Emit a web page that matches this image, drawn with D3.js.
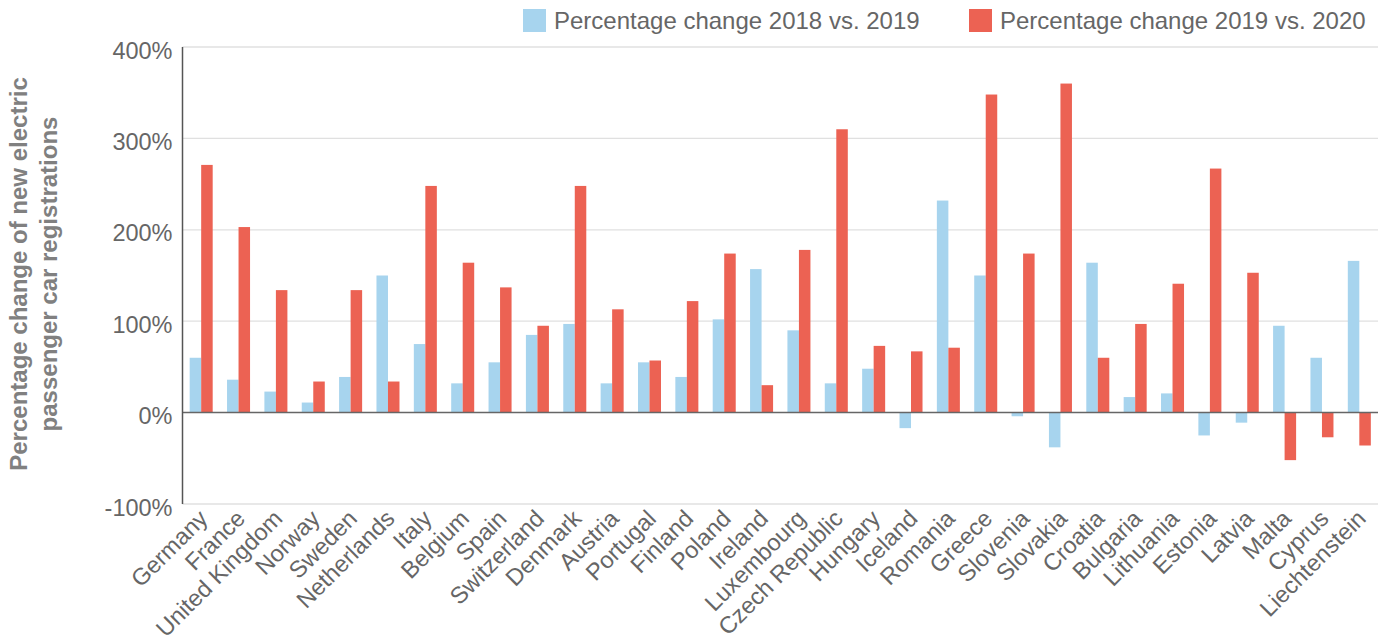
<!DOCTYPE html>
<html>
<head>
<meta charset="utf-8">
<script src="https://cdn.jsdelivr.net/npm/d3@7"></script>
<style>
  html, body { margin: 0; padding: 0; background: #fff; }
  svg { display: block; font-family: "Liberation Sans", Arial, sans-serif; }
</style>
</head>
<body>
<svg id="chart" width="1391" height="642"></svg>
<script>
// Countries on the x axis
const countries = ["Germany", "France", "United Kingdom", "Norway", "Sweden", "Netherlands",
  "Italy", "Belgium", "Spain", "Switzerland", "Denmark", "Austria", "Portugal", "Finland",
  "Poland", "Ireland", "Luxembourg", "Czech Republic", "Hungary", "Iceland", "Romania",
  "Greece", "Slovenia", "Slovakia", "Croatia", "Bulgaria", "Lithuania", "Estonia", "Latvia",
  "Malta", "Cyprus", "Liechtenstein"];

// Percentage change of new electric passenger car registrations
const change2018vs2019 = [60, 36, 23, 11, 39, 150, 75, 32, 55, 85, 97, 32, 55, 39,
  102, 157, 90, 32, 48, -17, 232, 150, -4, -38, 164, 17, 21, -25, -11, 95, 60, 166];
const change2019vs2020 = [271, 203, 134, 34, 134, 34, 248, 164, 137, 95, 248, 113, 57, 122,
  174, 30, 178, 310, 73, 67, 71, 348, 174, 360, 60, 97, 141, 267, 153, -52, -27, -36];

const seriesNames = ["Percentage change 2018 vs. 2019", "Percentage change 2019 vs. 2020"];
const seriesColors = ["#a7d4ee", "#ec6253"];
const yTicks = [-100, 0, 100, 200, 300, 400];

const svg = d3.select("#chart");
const plotLeft = 182.5, plotRight = 1378, plotTop = 47, plotBottom = 504;

const x0 = d3.scaleBand().domain(countries).range([plotLeft, plotRight])
  .paddingInner(0.384).paddingOuter(0.192);
const x1 = d3.scaleBand().domain([0, 1]).range([0, x0.bandwidth()]);
const y = d3.scaleLinear().domain([-100, 400]).range([plotBottom, plotTop]);

// Horizontal grid
svg.append("g").selectAll("line").data(yTicks.filter(t => t !== 0)).join("line")
  .attr("x1", plotLeft).attr("x2", plotRight)
  .attr("y1", d => y(d)).attr("y2", d => y(d))
  .attr("stroke", "#e0e0e0").attr("stroke-width", 1.3);

// Y tick labels
const yAxis = d3.axisLeft(y).tickValues(yTicks).tickSize(0).tickPadding(10)
  .tickFormat(d => d + "%");
const gy = svg.append("g").attr("transform", `translate(${plotLeft},0)`).call(yAxis);
gy.select(".domain").remove();
gy.selectAll("text").attr("fill", "#666").style("font-size", "23.5px")
  .attr("font-family", null).attr("dy", "0.47em");

// Bars
const rows = countries.map((c, i) => ({ c, v: [change2018vs2019[i], change2019vs2020[i]] }));
svg.append("g").selectAll("g").data(rows).join("g")
  .attr("transform", d => `translate(${x0(d.c)},0)`)
  .selectAll("rect").data(d => d.v.map((v, k) => ({ v, k }))).join("rect")
  .attr("x", d => x1(d.k)).attr("width", x1.bandwidth())
  .attr("y", d => y(Math.max(0, d.v)))
  .attr("height", d => Math.abs(y(d.v) - y(0)))
  .attr("fill", d => seriesColors[d.k]);

// Zero line and left axis line
svg.append("line").attr("x1", plotLeft).attr("x2", plotRight).attr("y1", y(0)).attr("y2", y(0))
  .attr("stroke", "#666").attr("stroke-width", 1.5);
svg.append("line").attr("x1", plotLeft).attr("x2", plotLeft).attr("y1", plotTop).attr("y2", plotBottom)
  .attr("stroke", "#555").attr("stroke-width", 1.5);

// Rotated country labels
svg.append("g").selectAll("text").data(countries).join("text")
  .attr("transform", d => `translate(${x0(d) + x0.bandwidth() / 2 + 8},520) rotate(-45)`)
  .attr("text-anchor", "end")
  .attr("fill", "#666").style("font-size", "23.5px")
  .text(d => d);

// Y axis title
const title = svg.append("text").attr("transform", "translate(27,274) rotate(-90)")
  .attr("text-anchor", "middle").attr("fill", "#808080")
  .style("font-size", "24px").style("font-weight", "bold");
title.append("tspan").attr("x", 0).attr("y", 0).text("Percentage change of new electric");
title.append("tspan").attr("x", 0).attr("y", 30).text("passenger car registrations");

// Legend
const legendX = [523, 969];
const lg = svg.append("g").selectAll("g").data(seriesNames).join("g")
  .attr("transform", (d, i) => `translate(${legendX[i]},9)`);
lg.append("rect").attr("width", 23).attr("height", 23).attr("fill", (d, i) => seriesColors[i]);
lg.append("text").attr("x", 31).attr("y", 19.5).attr("fill", "#666")
  .style("font-size", "24px").text(d => d);
</script>
</body>
</html>
